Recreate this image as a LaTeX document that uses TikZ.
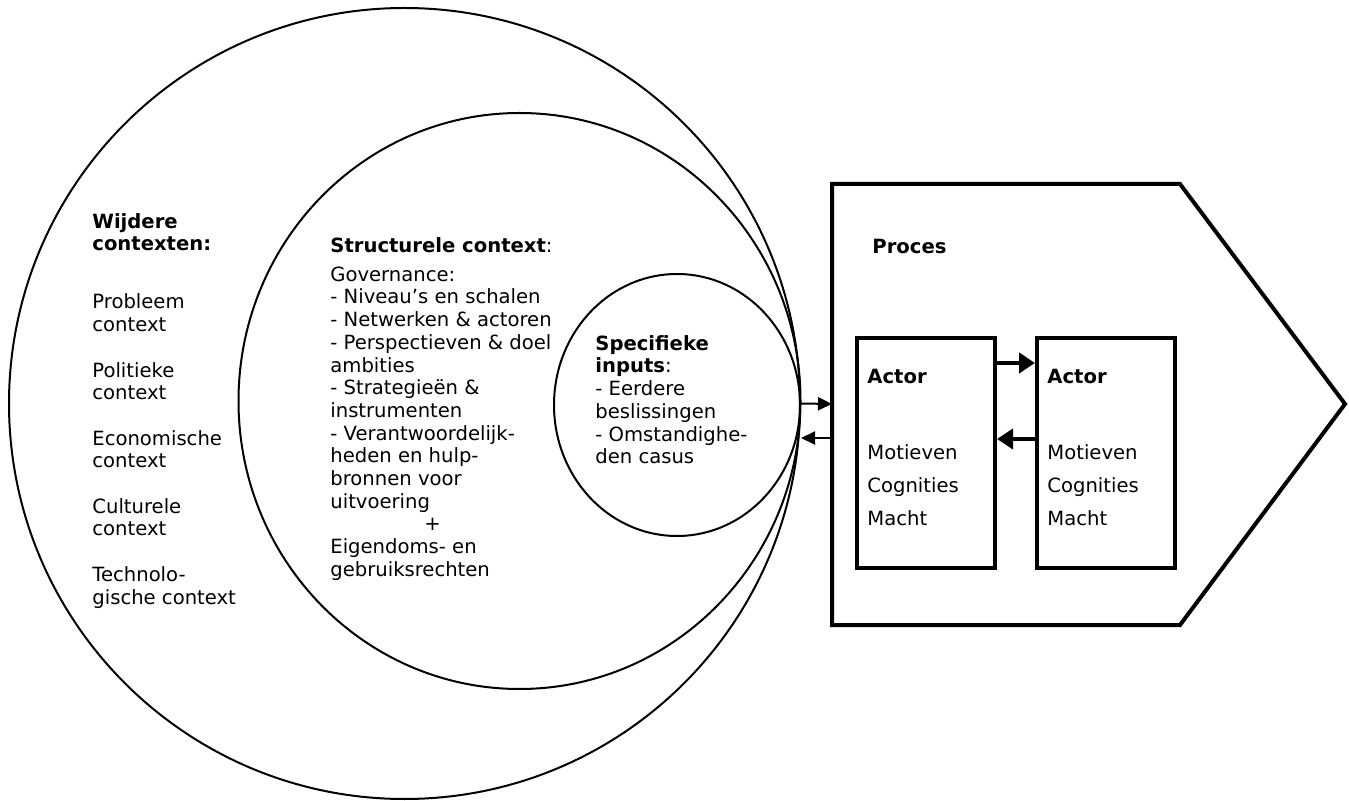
\documentclass[tikz,border=0pt]{standalone}
\usepackage{fontspec}
\setmainfont{DejaVu Sans}
\usetikzlibrary{arrows.meta,shapes.geometric}
\begin{document}
\begin{tikzpicture}[x=0.5pt,y=-0.5pt,
  txt/.style={inner sep=0,anchor=north west,align=left,font=\fontsize{9.8}{11.35}\selectfont},
  ring/.style={draw,ellipse,line width=1pt,inner sep=0},
  actorbox/.style={draw,line width=2pt,minimum width=69pt,minimum height=115pt,inner sep=0},
  thinarrow/.style={line width=1pt,-{Triangle[length=7pt,width=6.5pt]}},
  thickarrow/.style={line width=2pt,-{Triangle[length=8pt,width=10pt]}}]
\useasboundingbox (0,0) rectangle (1349,801);
% circles
\node[ring,minimum width=395.5pt,minimum height=395.5pt] (outer) at (404.5,403.5) {};
\node[ring,minimum width=281pt,minimum height=288pt] (middle) at (519.5,401) {};
\node[ring,minimum width=123pt,minimum height=131pt] (inner) at (677,405) {};
% process pentagon
\draw[line width=2pt,line join=miter] (832,184) coordinate (ptl) -- (1180,184) coordinate (ptr)
  -- (1345,404) coordinate (tip) -- (1180,625) coordinate (pbr) -- (832,625) coordinate (pbl) -- cycle;
\coordinate (pin) at (832,404);
\coordinate (pout) at (832,438);
% actor boxes
\node[actorbox] (a1) at (926,453) {};
\node[actorbox] (a2) at (1106,453) {};
% connectors
\draw[thinarrow] (outer.east) -- (pin);
\draw[thinarrow] (pout) -- (outer.east |- pout);
\draw[thickarrow] (a1.east |- 0,363) -- (a2.west |- 0,363);
\draw[thickarrow] (a2.west |- 0,439) -- (a1.east |- 0,439);
% texts
\node[txt] (wider) at (92,213) {\textbf{Wijdere}\\\textbf{contexten:}\\[17.65pt]
Probleem\\context\\[11.35pt]
Politieke\\context\\[11.35pt]
Economische\\context\\[11.35pt]
Culturele\\context\\[11.35pt]
Technolo-\\gische context};
\node[txt] (struct) at (330,237) {\textbf{Structurele context}:\\[3.15pt]
Governance:\\
- Niveau’s en schalen\\
- Netwerken \& actoren\\
- Perspectieven \& doel\\
ambities\\
- Strategieën \&\\
instrumenten\\
- Verantwoordelijk-\\
heden en hulp-\\
bronnen voor\\
uitvoering\\
\hspace*{47pt}+\\
Eigendoms- en\\
gebruiksrechten};
\node[txt] (spec) at (595,335) {\textbf{Specifieke}\\\textbf{inputs}:\\
- Eerdere\\beslissingen\\- Omstandighe-\\den casus};
\node[txt,anchor=base west] (proces) at (872,254) {\textbf{Proces}};
\node[txt] (t1) at (867,369) {\textbf{Actor}\\[26.65pt]Motieven\\[5.15pt]Cognities\\[5.15pt]Macht};
\node[txt] (t2) at (1047,369) {\textbf{Actor}\\[26.65pt]Motieven\\[5.15pt]Cognities\\[5.15pt]Macht};
\end{tikzpicture}
\end{document}
